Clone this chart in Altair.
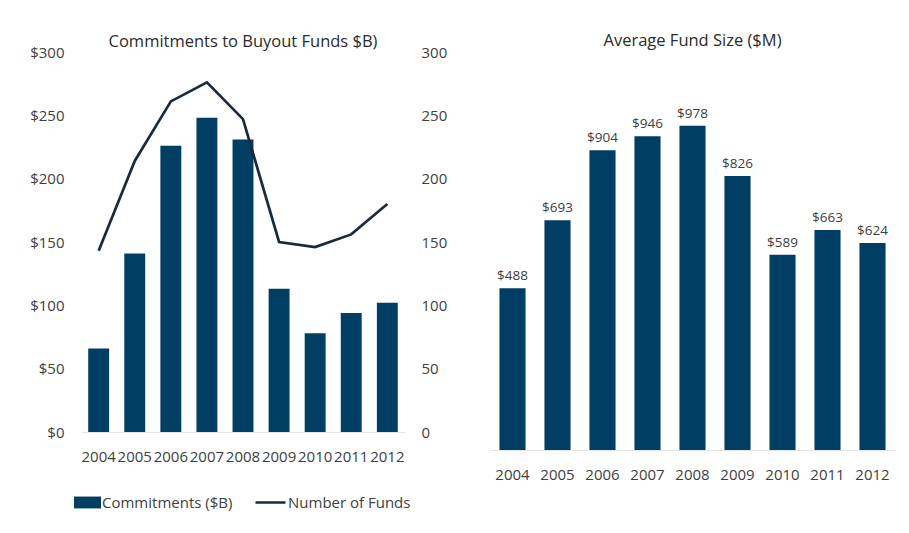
import altair as alt
import pandas as pd

years = ["2004", "2005", "2006", "2007", "2008", "2009", "2010", "2011", "2012"]
commitments = [66, 141, 226, 248, 231, 113, 78, 94, 102]
num_funds = [143, 214, 261, 276, 247, 150, 146, 156, 180]
avg_size = [488, 693, 904, 946, 978, 826, 589, 663, 624]
left_ticks = [0, 50, 100, 150, 200, 250, 300]

FONT = "Open Sans"
BAR = "#003f63"
LINE = "#1b2a3a"
TEXT = "#404040"
TITLE = "#2b2b2b"

left_df = pd.DataFrame({
    "year": years,
    "commitments": commitments,
    "funds": num_funds,
    "s_bar": "Commitments ($B)",
    "s_line": "Number of Funds",
})
right_df = pd.DataFrame({"year": years, "avg": avg_size})

xl = alt.X(
    "year:N", title=None,
    scale=alt.Scale(paddingInner=0.42, paddingOuter=0.2),
    axis=alt.Axis(labelAngle=0, domainColor="#e4e4e4", ticks=False,
                  labelPadding=17, labelFontSize=15),
)

bars = alt.Chart(left_df).mark_bar().encode(
    x=xl,
    y=alt.Y("commitments:Q", title=None, scale=alt.Scale(domain=[0, 300]),
            axis=alt.Axis(values=left_ticks, labelExpr="'$' + datum.value",
                          grid=False, domain=False, ticks=False,
                          labelPadding=17, labelFontSize=15)),
    fill=alt.Fill("s_bar:N", scale=alt.Scale(range=[BAR]),
                  legend=alt.Legend(title=None, orient="none", legendX=-7, legendY=437,
                                    symbolType="M-1,-0.44H1V0.44H-1Z", symbolSize=729,
                                    symbolStrokeWidth=0, labelFontSize=15, labelOffset=1,
                                    labelColor=TEXT, labelFont=FONT)),
)

line = alt.Chart(left_df).mark_line(strokeWidth=2.7).encode(
    x=xl,
    y=alt.Y("funds:Q", title=None, scale=alt.Scale(domain=[0, 300]),
            axis=alt.Axis(orient="right", values=left_ticks, grid=False,
                          domain=False, ticks=False, labelPadding=16,
                          labelFontSize=15)),
    stroke=alt.Stroke("s_line:N", scale=alt.Scale(range=[LINE]),
                      legend=alt.Legend(title=None, orient="none", legendX=173, legendY=434,
                                        symbolType="stroke", symbolSize=900,
                                        symbolStrokeWidth=2.5, labelFontSize=15,
                                        labelOffset=1, labelColor=TEXT, labelFont=FONT)),
)

left = alt.layer(bars, line).resolve_scale(y="independent").properties(
    width=324, height=380,
    title=alt.Title("Commitments to Buyout Funds $B)", offset=-5),
)

xr = alt.X(
    "year:N", title=None,
    scale=alt.Scale(paddingInner=0.42, paddingOuter=0.21),
    axis=alt.Axis(labelAngle=0, domainColor="#e4e4e4", ticks=False,
                  labelPadding=17, labelFontSize=15),
)
rbars = alt.Chart(right_df).mark_bar(color=BAR).encode(
    x=xr,
    y=alt.Y("avg:Q", scale=alt.Scale(domain=[0, 1200]), axis=None),
)
rtext = alt.Chart(right_df).mark_text(baseline="bottom", dy=-5, fontSize=13.5,
                                      color=TEXT, font=FONT).encode(
    x=xr,
    y=alt.Y("avg:Q", scale=alt.Scale(domain=[0, 1200]), axis=None),
    text=alt.Text("avg:Q", format="$d"),
)
right = alt.layer(rbars, rtext).properties(
    width=405, height=398,
    title=alt.Title("Average Fund Size ($M)", offset=3),
)

chart = alt.hconcat(left, right, spacing=43).properties(
    padding={"left": 21, "top": 24, "right": 5, "bottom": 5},
).configure_view(stroke=None).configure_axis(
    labelFont=FONT, labelColor=TEXT,
).configure_title(
    font=FONT, fontSize=16.5, fontWeight="normal", color=TITLE, anchor="middle",
).configure_legend(labelFont=FONT, labelColor=TEXT)

chart.save("out.html", embed_options={"renderer": "svg", "actions": False})
